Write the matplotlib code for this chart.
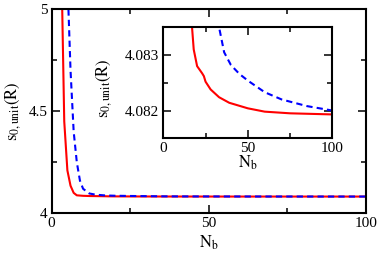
import matplotlib
matplotlib.use("Agg")
import matplotlib.pyplot as plt
from matplotlib.ticker import MultipleLocator, FuncFormatter

plt.rcParams['font.family'] = ['Liberation Serif', 'DejaVu Serif']
plt.rcParams['mathtext.fontset'] = 'stix'

# Data
N_red = [3, 4, 5, 6, 7, 8, 10, 12, 15, 17, 18, 20, 23, 24, 25, 28, 33, 39, 50, 60, 75, 100]
s_red = [5.3, 4.45, 4.21, 4.135, 4.10, 4.088, 4.0856, 4.0846, 4.0839, 4.0835, 4.0831,
         4.0828, 4.08267, 4.08262, 4.08252, 4.08238, 4.08224, 4.08214, 4.08204,
         4.08198, 4.08195, 4.08193]

N_blue = [5, 6, 7, 8, 9, 10, 12, 14, 17, 20, 25, 30, 33, 36, 40, 45, 50, 60, 70, 85, 100]
s_blue = [5.15, 4.70, 4.40, 4.25, 4.16, 4.12, 4.097, 4.091, 4.0875, 4.0860, 4.0848,
          4.0840, 4.0835, 4.08305, 4.08282, 4.08266, 4.08254, 4.08233, 4.08220,
          4.08208, 4.08200]

xlabel = r'$\mathrm{N_b}$'
ylabel = r'$\mathrm{s_{0,unit}(R)}$'

fig = plt.figure(figsize=(3.82, 2.56), dpi=100)

def style(ax, fs):
    for sp in ax.spines.values():
        sp.set_linewidth(1.5)
    ax.tick_params(which='both', direction='in', top=True, right=True,
                   labelsize=fs, pad=3)
    ax.tick_params(which='major', length=6, width=1.1)
    ax.tick_params(which='minor', length=3.5, width=1.1)

ax = fig.add_axes([0.1353, 0.1668, 0.822, 0.798])
ax.plot(N_red, s_red, color='#ff0000', lw=1.5)
ax.plot(N_blue, s_blue, color='#0000ff', lw=1.5, linestyle=(0, (3, 2)))
ax.set_xlim(0, 100)
ax.set_ylim(4, 5)
ax.xaxis.set_major_locator(MultipleLocator(50))
ax.xaxis.set_minor_locator(MultipleLocator(25))
ax.yaxis.set_major_locator(MultipleLocator(0.5))
ax.yaxis.set_minor_locator(MultipleLocator(0.25))
ax.yaxis.set_major_formatter(FuncFormatter(lambda v, p: '%g' % v))
style(ax, 11)
ax.set_xlabel(xlabel, fontsize=12, labelpad=2)
ax.set_ylabel(ylabel, fontsize=12, labelpad=4)

ins = fig.add_axes([0.4275, 0.4598, 0.4424, 0.4336])
ins.plot(N_red, s_red, color='#ff0000', lw=1.5)
ins.plot(N_blue, s_blue, color='#0000ff', lw=1.5, linestyle=(0, (3, 2)))
ins.set_xlim(0, 100)
ins.set_ylim(4.0815, 4.0835)
ins.xaxis.set_major_locator(MultipleLocator(50))
ins.xaxis.set_minor_locator(MultipleLocator(25))
ins.yaxis.set_major_locator(MultipleLocator(0.001))
ins.yaxis.set_minor_locator(MultipleLocator(0.0005))
ins.yaxis.set_major_formatter(FuncFormatter(lambda v, p: '%.3f' % v))
style(ins, 11)
ins.set_xlabel(xlabel, fontsize=12, labelpad=-1)
ins.set_ylabel(ylabel, fontsize=12, labelpad=3)
ins.yaxis.set_label_coords(-0.29, 0.45)

fig.savefig('out.png', dpi=100)
